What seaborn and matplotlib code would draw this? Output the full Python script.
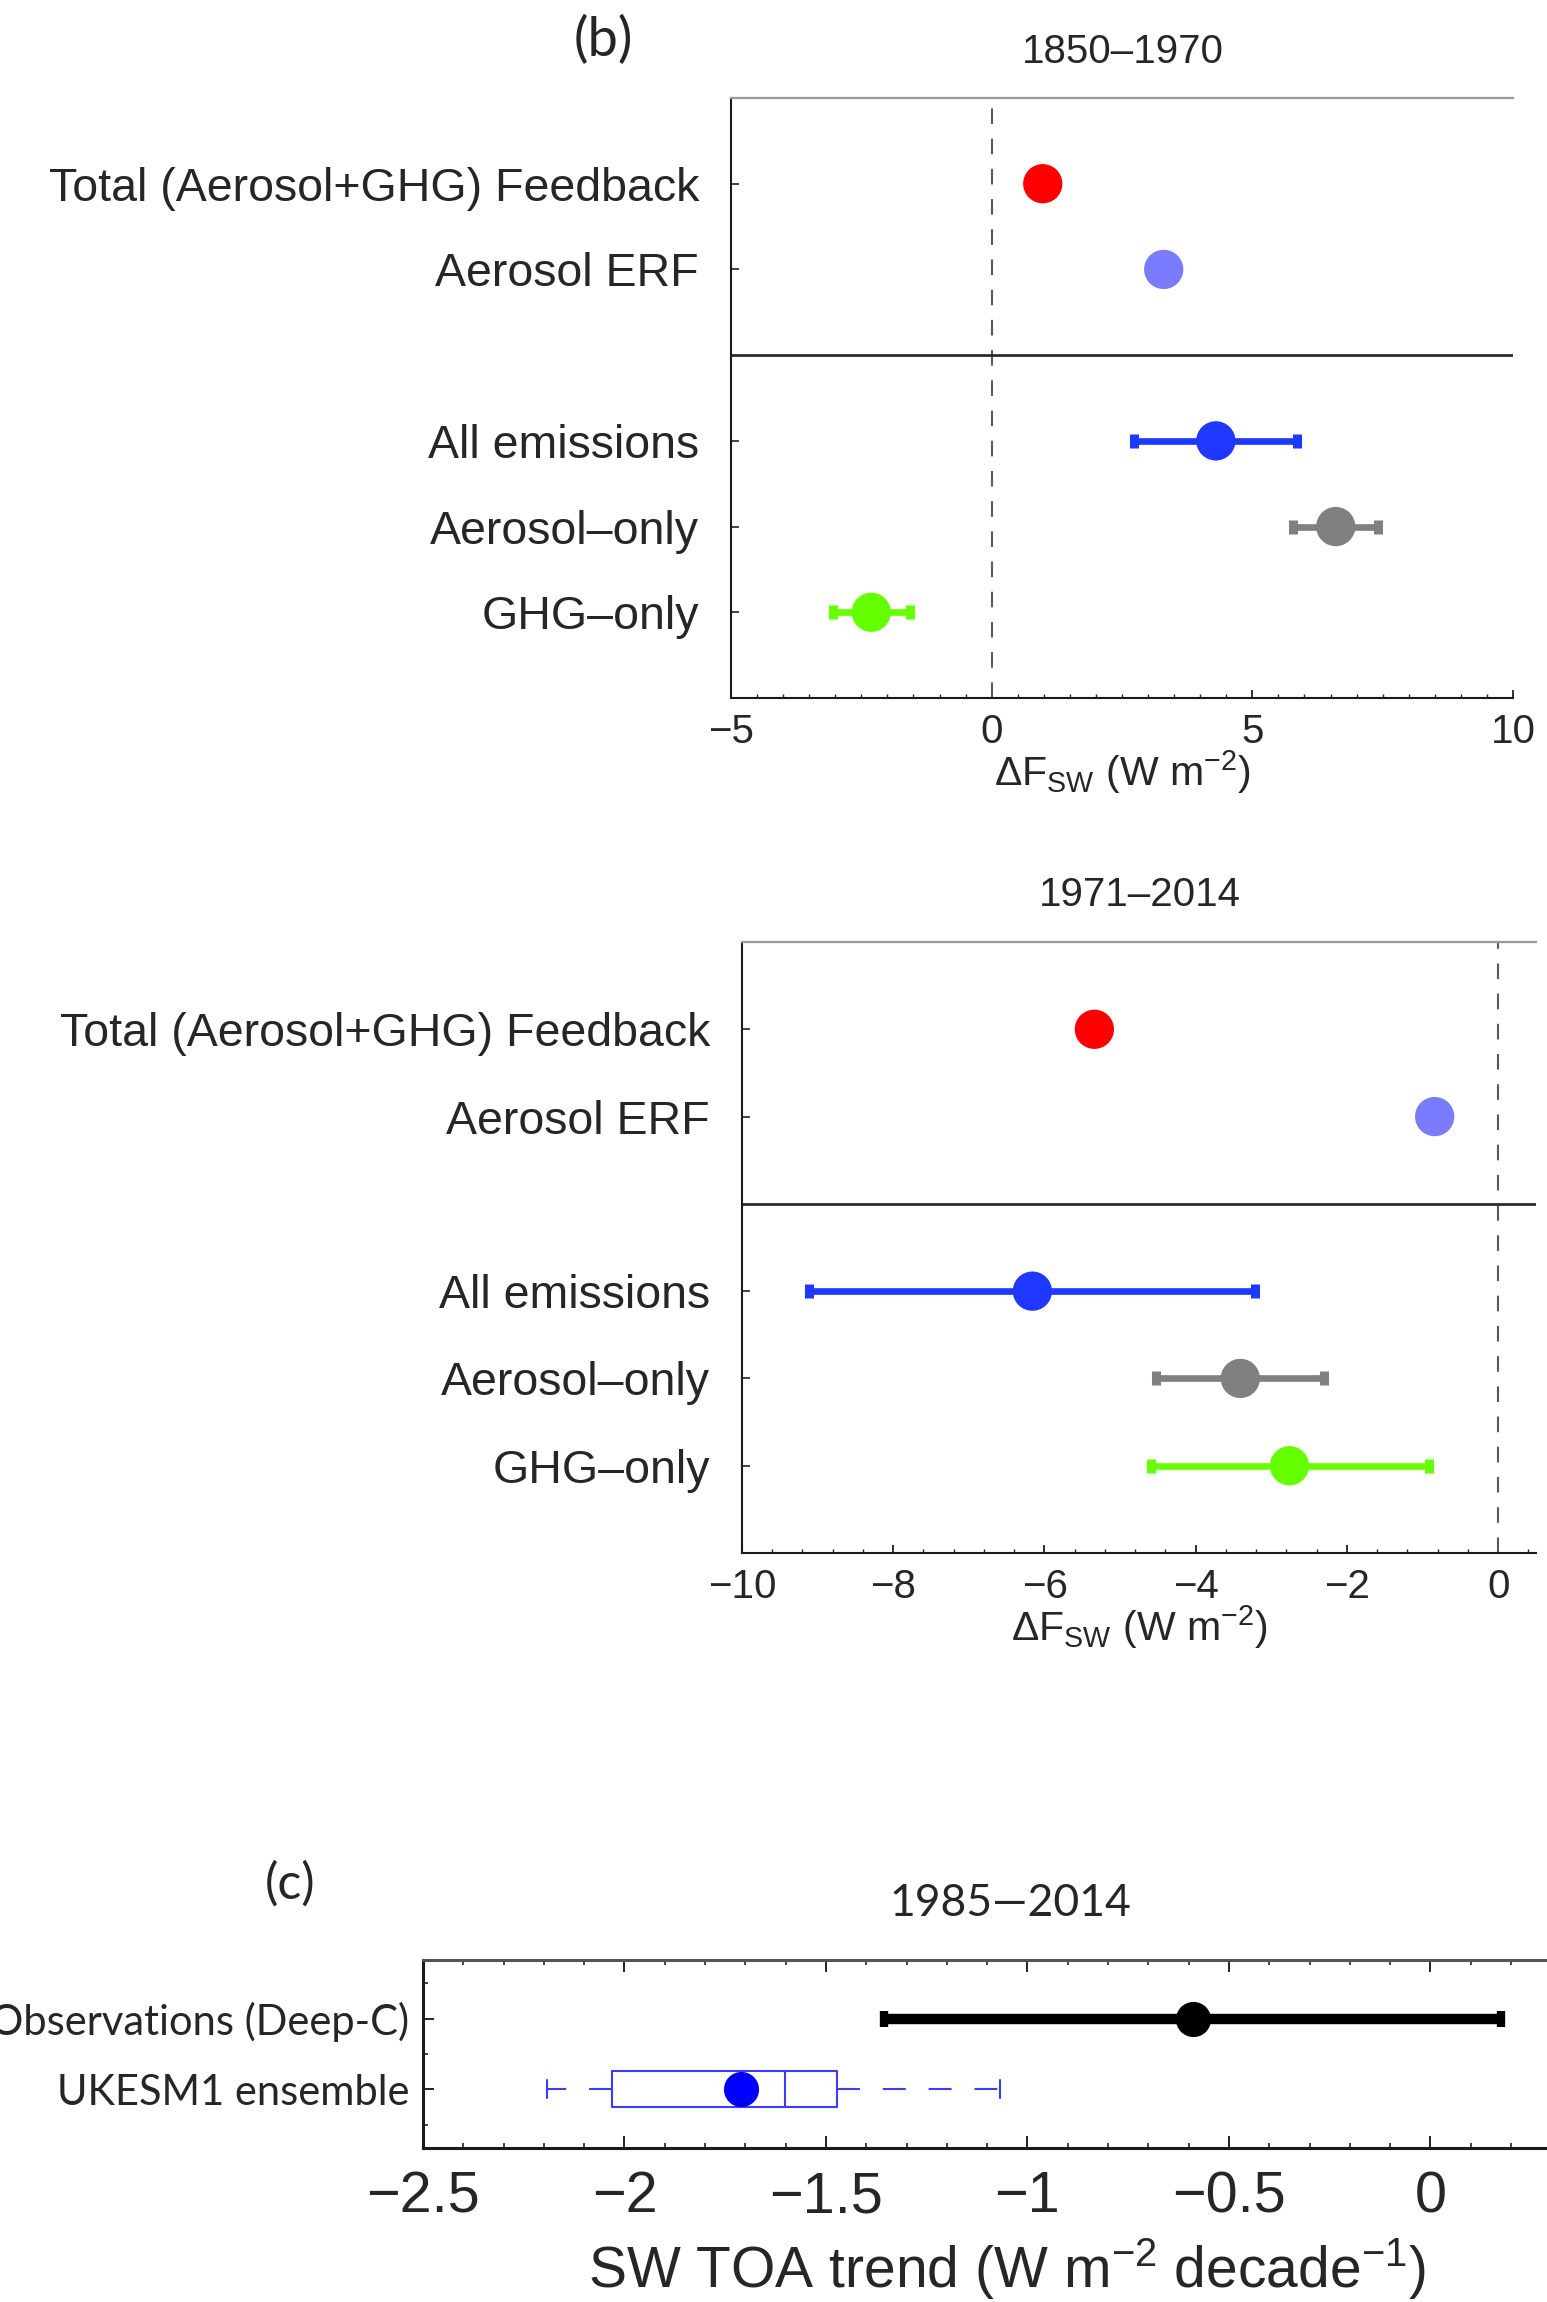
import numpy as np
import pandas as pd
import matplotlib
matplotlib.use("Agg")
import matplotlib.pyplot as plt
import seaborn as sns
from matplotlib.ticker import MultipleLocator, FixedLocator, FuncFormatter

# ---------------------------------------------------------------- data
rows_b = ["Total (Aerosol+GHG) Feedback", "Aerosol ERF",
          "All emissions", "Aerosol\u2013only", "GHG\u2013only"]
row_pos_b = [1, 2, 4, 5, 6]
row_colors = ["#ff0000", "#7b7bff", "#1f38ff", "#808080", "#66ff00"]

# 1850-1970 changes (W m-2)
early_mean = [0.98, 3.30, 4.30, 6.60, -2.31]
early_low = [np.nan, np.nan, 2.73, 5.78, -3.05]
early_high = [np.nan, np.nan, 5.85, 7.41, -1.57]

# 1971-2014 changes (W m-2)
late_mean = [-5.34, -0.84, -6.16, -3.41, -2.76]
late_low = [np.nan, np.nan, -9.12, -4.53, -4.59]
late_high = [np.nan, np.nan, -3.22, -2.31, -0.92]

# 1985-2014 SW TOA trends (W m-2 decade-1)
rows_c = ["Observations (Deep-C)", "UKESM1 ensemble"]
obs_trend = -0.59
obs_low, obs_high = -1.355, 0.176
# ensemble five-number summary: min, q1, median, q3, max
ens_summary = [-2.192, -2.032, -1.602, -1.472, -1.069]
ens_mean = -1.710

# ---------------------------------------------------------------- style
sns.set_theme(style="ticks")
plt.rcParams["font.family"] = ["Liberation Sans", "DejaVu Sans"]
plt.rcParams["mathtext.fontset"] = "custom"
plt.rcParams["mathtext.rm"] = "Liberation Sans"
plt.rcParams["mathtext.it"] = "Liberation Sans:italic"
plt.rcParams["mathtext.bf"] = "Liberation Sans:bold"
plt.rcParams["axes.unicode_minus"] = True

W, H = 1547, 2302
fig = plt.figure(figsize=(W / 100, H / 100), dpi=100)


def box(l, t, r, b):
    return [l / W, 1 - b / H, (r - l) / W, (b - t) / H]


def fmt_num(v, _pos=None):
    s = "%g" % v
    return s.replace("-", "\u2212")


def forcing_panel(rect, means, lows, highs, xlim, minor, title, title_xy):
    ax = fig.add_axes(rect)
    df = pd.DataFrame({"row": row_pos_b, "label": rows_b, "value": means,
                       "low": lows, "high": highs})
    ax.axvline(0, color="#5a5a5a", lw=1.5, ls=(0, (7.5, 7)), zorder=1)
    ax.axhline(3, color="#2a2a2a", lw=2.0, zorder=1)
    for _, r in df.dropna().iterrows():
        c = row_colors[rows_b.index(r["label"])]
        ax.errorbar(r["value"], r["row"],
                    xerr=[[r["value"] - r["low"]], [r["high"] - r["value"]]],
                    fmt="none", ecolor=c, elinewidth=4.8, capsize=4.8,
                    capthick=6.5, zorder=2)
    sns.scatterplot(data=df, x="value", y="row", hue="label",
                    palette=dict(zip(rows_b, row_colors)), s=800,
                    linewidth=0, legend=False, ax=ax, zorder=3)
    ax.set_xlim(*xlim)
    ax.set_ylim(7, 0)
    ax.set_yticks(row_pos_b)
    ax.set_yticklabels(rows_b)
    ax.xaxis.set_minor_locator(MultipleLocator(minor))
    ax.xaxis.set_major_formatter(FuncFormatter(fmt_num))
    ax.tick_params(axis="x", which="major", direction="in", length=5.8,
                   width=1.3, labelsize=29, pad=11, bottom=True, top=False,
                   color="#222222")
    ax.tick_params(axis="x", which="minor", direction="in", length=2.8,
                   width=1.0, bottom=True, top=False, color="#222222")
    ax.tick_params(axis="y", which="major", direction="in", length=5.8,
                   width=1.2, labelsize=33.5, pad=23, left=True,
                   color="#222222")
    ax.tick_params(axis="y", which="minor", left=False, right=False)
    for s in ["left", "bottom"]:
        ax.spines[s].set_color("#1a1a1a")
        ax.spines[s].set_linewidth(1.5)
    ax.spines["top"].set_color("#9a9a9a")
    ax.spines["top"].set_linewidth(1.6)
    ax.spines["right"].set_visible(False)
    ax.set_ylabel("")
    ax.set_xlabel("\u0394F$_{\\mathrm{SW}}$ (W m$^{-2}$)", fontsize=29.5,
                  labelpad=-2)
    fig.text(title_xy[0] / W, 1 - title_xy[1] / H, title, fontsize=29,
             ha="center", va="center")
    return ax


ax1 = forcing_panel(box(731, 98, 1513, 698), early_mean, early_low,
                    early_high, (-5, 10), 0.5, "1850\u20131970", (1123, 52))
ax2 = forcing_panel(box(742, 942, 1536, 1553), late_mean, late_low,
                    late_high, (-10, 0.5), 0.4, "1971\u20132014", (1140, 895))
ax1.xaxis.set_major_locator(FixedLocator([-5, 0, 5, 10]))
ax2.xaxis.set_major_locator(FixedLocator([-10, -8, -6, -4, -2, 0]))

fig.text(603 / W, 1 - 40 / H, "(b)", fontsize=39, family="Lato",
         ha="center", va="center")

# ---------------------------------------------------------------- panel c
ax3 = fig.add_axes(box(423, 1960, 423 + 2.9 * 403, 2148))
ens_color = "#3b3bff"
sns.boxplot(x=ens_summary, y=[2] * len(ens_summary), orient="y",
            native_scale=True, width=0.51, fill=False, color=ens_color,
            linecolor=ens_color, linewidth=1.5, showfliers=False,
            whiskerprops=dict(linestyle=(0, (11, 11))), ax=ax3, zorder=2)
ax3.errorbar(obs_trend, 1, xerr=[[obs_trend - obs_low], [obs_high - obs_trend]],
             fmt="none", ecolor="black", elinewidth=7.5, capsize=5.6,
             capthick=6.0, zorder=3)
sns.scatterplot(x=[obs_trend], y=[1], color="black", s=640, linewidth=0,
                ax=ax3, zorder=4)
sns.scatterplot(x=[ens_mean], y=[2], color="#0000ff", s=640, linewidth=0,
                ax=ax3, zorder=4)
ax3.set_xlim(-2.5, 0.4)
ax3.set_ylim(2.83, 0.17)
ax3.set_yticks([1, 2])
ax3.set_yticklabels(rows_c, family="Lato", fontsize=30)
ax3.yaxis.set_minor_locator(FixedLocator([0.5, 1.5, 2.5]))
ax3.xaxis.set_major_locator(MultipleLocator(0.5))
ax3.xaxis.set_minor_locator(MultipleLocator(0.1))
ax3.xaxis.set_major_formatter(FuncFormatter(fmt_num))
ax3.tick_params(axis="x", which="major", direction="in", length=8.6,
                width=1.4, labelsize=41.5, pad=16, bottom=True, top=True,
                color="#222222")
ax3.tick_params(axis="x", which="minor", direction="in", length=3.8,
                width=1.2, bottom=True, top=True, color="#222222")
ax3.tick_params(axis="y", which="major", direction="in", length=8.0,
                width=1.4, pad=10, left=True, right=False, color="#222222")
ax3.tick_params(axis="y", which="minor", direction="in", length=3.8,
                width=1.2, left=True, right=False, color="#222222")
for s in ["left", "bottom", "top"]:
    ax3.spines[s].set_linewidth(2.2)
    ax3.spines[s].set_color("#1a1a1a")
ax3.spines["top"].set_color("#555555")
ax3.spines["right"].set_visible(False)
ax3.set_ylabel("")
ax3.set_xlabel("SW TOA trend (W m$^{-2}$ decade$^{-1}$)", fontsize=41,
               labelpad=9)

fig.text(1010 / W, 1 - 1903 / H, "1985\u20142014", fontsize=32,
         family="Lato", ha="center", va="center")
fig.text(290 / W, 1 - 1884 / H, "(c)", fontsize=36, family="Lato",
         ha="center", va="center")

fig.savefig("out.png", dpi=100, facecolor="white")
